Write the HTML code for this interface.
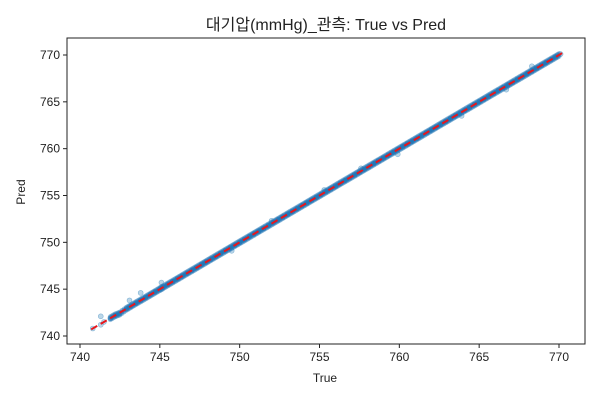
<!DOCTYPE html>
<html><head><meta charset="utf-8"><style>
body{margin:0;background:#fff;}
svg text{font-family:"Liberation Sans","Noto Sans CJK KR",sans-serif;fill:#222;}
</style></head><body>
<svg id="chart" width="600" height="400">
<rect x="0" y="0" width="600" height="400" fill="#fff"/>
<text x="326" y="30" font-size="16" text-anchor="middle">대기압(mmHg)_관측: True vs Pred</text>
<g id="points"></g>
<g id="ticks"></g>
<line id="ideal" stroke="#e8161b" stroke-width="2" stroke-dasharray="7,4"/>
<rect x="67" y="38" width="518" height="306" fill="none" stroke="#222" stroke-width="1"/>
<text x="325" y="382" font-size="12" text-anchor="middle">True</text>
<text x="25" y="192" font-size="12" text-anchor="middle" transform="rotate(-90 25 192)">Pred</text>
</svg>
<script>
const trueVals=[740.8,741.3,741.5,741.9,742.2,742.5,742.9,743.2,743.5,743.8,744.1,744.4,744.7,745.0,745.2,745.5,745.8,746.1,746.4,746.7,747.0,747.3,747.6,747.9,748.2,748.5,748.8,749.1,749.4,749.7,750.0,750.3,750.6,750.9,751.2,751.5,751.8,752.1,752.4,752.7,753.0,753.3,753.6,753.9,754.2,754.5,754.8,755.1,755.4,755.7,756.0,756.3,756.6,756.9,757.2,757.5,757.8,758.1,758.4,758.7,759.0,759.3,759.6,759.9,760.2,760.5,760.8,761.1,761.4,761.7,762.0,762.3,762.6,762.9,763.2,763.5,763.8,764.1,764.4,764.7,765.0,765.3,765.6,765.9,766.2,766.5,766.8,767.1,767.4,767.7,768.0,768.3,768.6,768.9,769.2,769.5,769.8,770.1,741.3,743.1,743.8,745.1,752.0,755.3,759.9,766.7,768.3,749.5,757.6,763.9];
const predVals=[740.8,741.2,741.5,741.9,742.2,742.4,742.9,743.2,743.5,743.8,744.1,744.4,744.7,745.0,745.2,745.5,745.8,746.1,746.4,746.7,747.0,747.3,747.6,747.9,748.2,748.5,748.8,749.1,749.4,749.7,750.0,750.3,750.6,750.9,751.2,751.5,751.8,752.1,752.4,752.7,753.0,753.3,753.6,753.9,754.2,754.5,754.8,755.1,755.4,755.7,756.0,756.3,756.6,756.9,757.2,757.5,757.8,758.1,758.4,758.7,759.0,759.3,759.6,759.9,760.2,760.5,760.8,761.1,761.4,761.7,762.0,762.3,762.6,762.9,763.2,763.5,763.8,764.1,764.4,764.7,765.0,765.3,765.6,765.9,766.2,766.5,766.8,767.1,767.4,767.7,768.0,768.3,768.6,768.9,769.2,769.5,769.8,770.1,742.1,743.8,744.6,745.7,752.3,755.6,759.4,766.3,768.8,749.1,757.9,763.5];
const bandOffsets=[-0.15,0,0.15];
const xTicks=[740,745,750,755,760,765,770];
const yTicks=[740,745,750,755,760,765,770];
const X=v=>80+(v-740)*(479/30);
const Y=v=>336-(v-740)*(281/30);
const NS='http://www.w3.org/2000/svg';
const pg=document.getElementById('points');
for(let i=0;i<trueVals.length;i++){
  const c=document.createElementNS(NS,'circle');
  c.setAttribute('cx',X(trueVals[i]));c.setAttribute('cy',Y(predVals[i]));
  c.setAttribute('r',2.5);c.setAttribute('fill','#1f77b4');c.setAttribute('fill-opacity',0.3);
  c.setAttribute('stroke','#1f77b4');c.setAttribute('stroke-opacity',0.45);c.setAttribute('stroke-width',0.6);
  
  
  pg.appendChild(c);
}
for(let i=3;i<97;i++){
  for(let k=0;k<3;k++){
    const t=trueVals[i]+(trueVals[i+1]-trueVals[i])*k/3;
    const p=predVals[i]+(predVals[i+1]-predVals[i])*k/3;
    bandOffsets.forEach(o=>{
      const c=document.createElementNS(NS,'circle');
      c.setAttribute('cx',X(t));c.setAttribute('cy',Y(p+o));
      c.setAttribute('r',2.5);c.setAttribute('fill','#2176b5');c.setAttribute('fill-opacity',0.45);
      
      
      pg.appendChild(c);
    });
  }
}
const l=document.getElementById('ideal');
l.setAttribute('x1',X(740.7));l.setAttribute('y1',Y(740.7));
l.setAttribute('x2',X(770.2));l.setAttribute('y2',Y(770.2));
const tg=document.getElementById('ticks');
xTicks.forEach(v=>{
  const ln=document.createElementNS(NS,'line');
  ln.setAttribute('x1',X(v));ln.setAttribute('x2',X(v));ln.setAttribute('y1',344);ln.setAttribute('y2',348);ln.setAttribute('stroke','#222');
  
  
  tg.appendChild(ln);
  const t=document.createElementNS(NS,'text');
  t.setAttribute('x',X(v));t.setAttribute('y',361);t.setAttribute('font-size',12);t.setAttribute('text-anchor','middle');
  t.textContent=v;
  
  
  tg.appendChild(t);
});
yTicks.forEach(v=>{
  const ln=document.createElementNS(NS,'line');
  ln.setAttribute('x1',63);ln.setAttribute('x2',67);ln.setAttribute('y1',Y(v));ln.setAttribute('y2',Y(v));ln.setAttribute('stroke','#222');
  
  
  tg.appendChild(ln);
  const t=document.createElementNS(NS,'text');
  t.setAttribute('x',60);t.setAttribute('y',Y(v)+4);t.setAttribute('font-size',12);t.setAttribute('text-anchor','end');
  t.textContent=v;
  
  
  tg.appendChild(t);
});
</script>
</body></html>
